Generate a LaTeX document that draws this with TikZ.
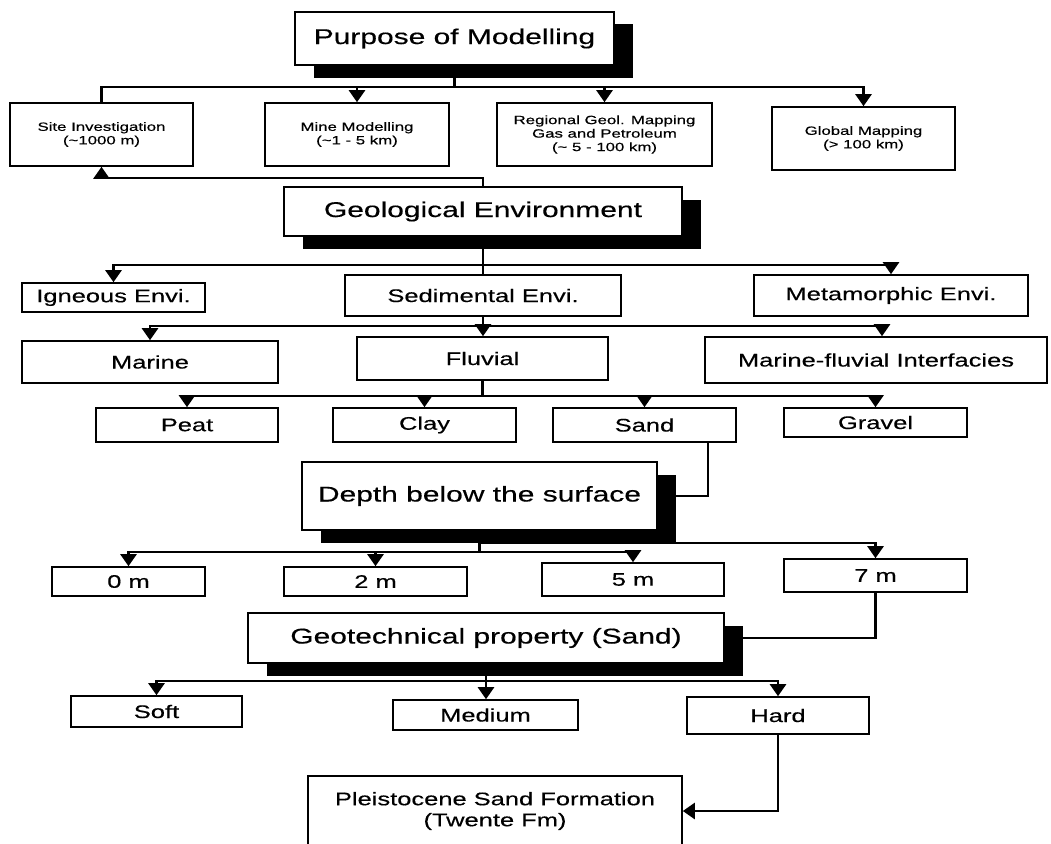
\documentclass[tikz,border=0pt]{standalone}
\usepackage{fontspec}
\setmainfont{Liberation Sans}[FakeStretch=1.4,FakeBold=0.4]
\usetikzlibrary{arrows.meta}
\begin{document}
\begin{tikzpicture}[x=1pt,y=-1pt,
  box/.style={draw, line width=1.6pt, fill=white, inner sep=0pt, align=center},
  shade/.style={fill=black, draw=none, inner sep=0pt},
  big/.style={font=\fontsize{21.4}{24}\selectfont},
  mid/.style={font=\fontsize{18.2}{21}\selectfont},
  sml/.style={font=\fontsize{12}{13.5}\selectfont},
  conn/.style={line width=2.5pt},
  arr/.style={conn, -{Triangle[width=16pt,length=12pt]}},
]
\useasboundingbox (0,0) rectangle (1051,843);
\clip (0,0) rectangle (1051,843);
% shadows
\node[shade, minimum width=319pt, minimum height=53pt] (purposeS) at (473,51) {};
\node[shade, minimum width=398pt, minimum height=49pt] (geoS) at (501.5,224) {};
\node[shade, minimum width=355pt, minimum height=68pt] (depthS) at (498,508.5) {};
\node[shade, minimum width=476pt, minimum height=50pt] (geotechS) at (504.5,650.5) {};
% boxes
\node[box, big, minimum width=319pt, minimum height=53pt] (purpose) at (454.5,38.5) {Purpose of Modelling};
\node[box, sml, minimum width=183pt, minimum height=63pt] (site) at (101.5,134.5) {Site Investigation\\(\textasciitilde1000 m)};
\node[box, sml, minimum width=184pt, minimum height=63pt] (mine) at (357,134.5) {Mine Modelling\\(\textasciitilde1 - 5 km)};
\node[box, sml, minimum width=215pt, minimum height=63pt] (regional) at (604.5,134.5) {Regional Geol. Mapping\\Gas and Petroleum\\(\textasciitilde{} 5 - 100 km)};
\node[box, sml, minimum width=183pt, minimum height=63pt] (global) at (863.5,138.5) {Global Mapping\\(> 100 km)};
\node[box, big, minimum width=398pt, minimum height=49pt] (geo) at (483,211.5) {Geological Environment};
\node[box, mid, minimum width=183pt, minimum height=29pt] (igneous) at (113.5,297.5) {Igneous Envi.};
\node[box, mid, minimum width=276pt, minimum height=41pt] (sedimental) at (483,295.5) {Sedimental Envi.};
\node[box, mid, minimum width=274pt, minimum height=41pt] (metamorphic) at (891,295.5) {Metamorphic Envi.};
\node[box, mid, minimum width=256pt, minimum height=42pt] (marine) at (150,362) {Marine};
\node[box, mid, minimum width=251pt, minimum height=43pt] (fluvial) at (482.5,358.5) {Fluvial};
\node[box, mid, minimum width=342pt, minimum height=46pt] (mfi) at (876,360) {Marine-fluvial Interfacies};
\node[box, mid, minimum width=182pt, minimum height=34pt] (peat) at (187,425) {Peat};
\node[box, mid, minimum width=183pt, minimum height=34pt] (clay) at (424.5,425) {Clay};
\node[box, mid, minimum width=183pt, minimum height=34pt] (sand) at (644.5,425) {Sand};
\node[box, mid, minimum width=183pt, minimum height=29pt] (gravel) at (875.5,422.5) {Gravel};
\node[box, big, minimum width=355pt, minimum height=68pt] (depth) at (479.5,496) {Depth below the surface};
\node[box, mid, minimum width=153pt, minimum height=29pt] (m0) at (128.5,581.5) {0 m};
\node[box, mid, minimum width=183pt, minimum height=29pt] (m2) at (375.5,581.5) {2 m};
\node[box, mid, minimum width=182pt, minimum height=33pt] (m5) at (633,579.5) {5 m};
\node[box, mid, minimum width=183pt, minimum height=33pt] (m7) at (875.5,575.5) {7 m};
\node[box, big, minimum width=476pt, minimum height=50pt] (geotech) at (486,638) {Geotechnical property (Sand)};
\node[box, mid, minimum width=171pt, minimum height=31pt] (soft) at (156.5,711.5) {Soft};
\node[box, mid, minimum width=185pt, minimum height=30pt] (medium) at (485.5,715) {Medium};
\node[box, mid, minimum width=182pt, minimum height=37pt] (hard) at (778,715.5) {Hard};
\node[box, mid, minimum width=374pt, minimum height=70pt] (pleist) at (495,811) {Pleistocene Sand Formation\\(Twente Fm)};
% connectors
\coordinate (b1) at (454.5,87);
\draw[conn] (purpose.south) -- (b1);
\draw[conn] (b1) -| (site.north);
\draw[arr] (b1) -| (mine.north);
\draw[arr] (b1) -| (regional.north);
\draw[arr] (b1) -| (global.north);
\coordinate (b2) at (483,178);
\draw[arr] (geo.north) -- (b2) -| (site.south);
\coordinate (b3) at (483,265);
\draw[conn] (geo.south) -- (sedimental.north);
\draw[arr] (b3) -| (igneous.north);
\draw[arr] (b3) -| (metamorphic.north);
\coordinate (b4) at (483,326);
\draw[arr] (sedimental.south) -- (sedimental.south |- fluvial.north);
\draw[arr] (b4) -| (marine.north);
\draw[arr] (b4) -| ([xshift=6pt]mfi.north);
\coordinate (b5) at (482.5,396);
\draw[conn] (fluvial.south) -- (b5);
\draw[arr] (b5) -| (peat.north);
\draw[arr] (b5) -| (clay.north);
\draw[arr] (b5) -| (sand.north);
\draw[arr] (b5) -| (gravel.north);
\draw[conn] ([xshift=63.5pt]sand.south) |- (depth.east);
\coordinate (b7) at (479.5,552);
\coordinate (b7b) at (479.5,543);
\draw[conn] (depth.south) -- (b7);
\draw[arr] (b7) -| (m0.north);
\draw[arr] (b7) -| (m2.north);
\draw[arr] (b7) -| (m5.north);
\draw[arr] (b7b) -| (m7.north);
\draw[conn] (m7.south) |- (geotech.east);
\coordinate (b9) at (486,681);
\draw[arr] (geotech.south) -- (geotech.south |- medium.north);
\draw[arr] (b9) -| (soft.north);
\draw[arr] (b9) -| (hard.north);
\draw[arr] (hard.south) |- (pleist.east);
\end{tikzpicture}
\end{document}
